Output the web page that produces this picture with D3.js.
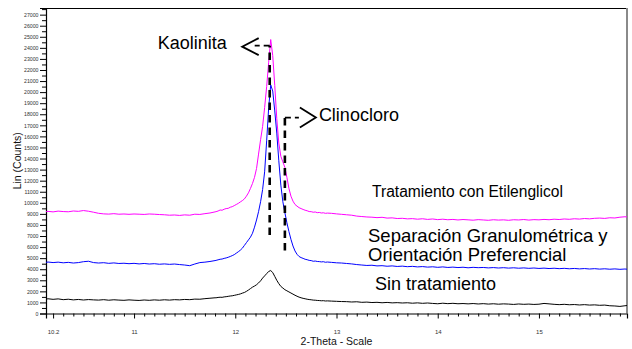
<!DOCTYPE html>
<html>
<head>
<meta charset="utf-8">
<script src="https://cdn.jsdelivr.net/npm/d3@7"></script>
<style>
  html, body { margin: 0; padding: 0; background: #fff; }
  svg { display: block; }
  text { font-family: "Liberation Sans", Arial, sans-serif; }
</style>
</head>
<body>
<svg id="chart" width="632" height="349"></svg>
<script>
// 2-Theta positions (degrees) shared by the three diffractograms
const twoTheta = [
  10.13, 10.15, 10.20, 10.25, 10.30, 10.35, 10.40, 10.45, 10.50, 10.55,
  10.60, 10.65, 10.70, 10.75, 10.80, 10.85, 10.90, 10.95, 11.00, 11.05,
  11.10, 11.15, 11.20, 11.25, 11.30, 11.35, 11.40, 11.45, 11.50, 11.55,
  11.60, 11.65, 11.70, 11.75, 11.80,
  11.81, 11.83, 11.85, 11.87, 11.89, 11.91, 11.93, 11.95, 11.97, 11.99,
  12.01, 12.03, 12.05, 12.07, 12.09, 12.11, 12.13, 12.15, 12.17, 12.19,
  12.21, 12.23, 12.25, 12.27, 12.29, 12.31, 12.33, 12.35, 12.37, 12.39,
  12.41, 12.43, 12.45, 12.47, 12.49, 12.51, 12.53, 12.55, 12.57, 12.59,
  12.61, 12.63, 12.65, 12.67, 12.69, 12.71, 12.73, 12.75, 12.77, 12.79,
  12.81, 12.83, 12.85, 12.87, 12.89, 12.91,
  12.95, 13.00, 13.05, 13.10, 13.15, 13.20, 13.25, 13.30, 13.35, 13.40,
  13.45, 13.50, 13.55, 13.60, 13.65, 13.70, 13.75, 13.80, 13.85, 13.90,
  13.95, 14.00, 14.05, 14.10, 14.15, 14.20, 14.25, 14.30, 14.35, 14.40,
  14.45, 14.50, 14.55, 14.60, 14.65, 14.70, 14.75, 14.80, 14.85, 14.90,
  14.95, 15.00, 15.05, 15.10, 15.15, 15.20, 15.25, 15.30, 15.35, 15.40,
  15.45, 15.50, 15.55, 15.60, 15.65, 15.70, 15.75, 15.80, 15.85, 15.87
];

// Tratamiento con Etilenglicol (counts)
const etilenglicol = [
  9200, 9230, 9180, 9250, 9210, 9190, 9260, 9230, 9300, 9240,
  9150, 9050, 9000, 8980, 9020, 8970, 8990, 8960, 8990, 8970,
  8950, 8990, 8970, 8940, 8920, 8880, 8900, 8860, 8910, 8880,
  8970, 8950, 9020, 9080, 9180,
  9200, 9260, 9350, 9330, 9420, 9480, 9500, 9600, 9650, 9750,
  9850, 9950, 10080, 10200, 10350, 10600, 10900, 11300, 11750, 12300,
  13100, 14400, 15700, 16900, 18600, 20500, 22700, 24750, 23300, 20600,
  17600, 15400, 14200, 13700, 13200, 12300, 11300, 10600, 10150, 9850,
  9700, 9560, 9480, 9400, 9330, 9280, 9210, 9200, 9150, 9170,
  9110, 9130, 9080, 9100, 9050, 9070,
  9050, 9000, 8960, 8920, 8880, 8800, 8760, 8720, 8700, 8660,
  8690, 8620, 8640, 8580, 8600, 8550, 8570, 8520, 8560, 8500,
  8540, 8480, 8520, 8470, 8500, 8450, 8490, 8460, 8430, 8480,
  8450, 8420, 8470, 8440, 8460, 8420, 8470, 8450, 8490, 8440,
  8480, 8460, 8500, 8470, 8520, 8490, 8540, 8510, 8560, 8530,
  8580, 8550, 8600, 8620, 8590, 8650, 8630, 8700, 8740, 8720
];

// Separación Granulométrica y Orientación Preferencial (counts)
const orientada = [
  4620, 4650, 4600, 4640, 4580, 4620, 4560, 4600, 4680, 4720,
  4600, 4560, 4590, 4530, 4570, 4520, 4540, 4500, 4530, 4480,
  4520, 4470, 4500, 4450, 4480, 4440, 4470, 4420, 4380, 4320,
  4470, 4600, 4640, 4700, 4780,
  4800, 4850, 4900, 4920, 4980, 5020, 5080, 5150, 5230, 5320,
  5450, 5580, 5720, 5900, 6150, 6400, 6650, 6900, 7250, 7800,
  8450, 9200, 10100, 11200, 12800, 15600, 18600, 20650, 20100, 18300,
  16300, 13800, 11600, 10100, 9100, 8200, 7400, 6700, 6100, 5650,
  5350, 5150, 5050, 4980, 4900, 4860, 4800, 4780, 4720, 4740,
  4700, 4690, 4660, 4680, 4630, 4650,
  4620, 4580, 4560, 4520, 4480, 4420, 4380, 4340, 4360, 4300,
  4320, 4270, 4300, 4250, 4280, 4230, 4260, 4210, 4240, 4190,
  4220, 4170, 4210, 4160, 4190, 4150, 4180, 4130, 4170, 4140,
  4160, 4120, 4150, 4110, 4140, 4100, 4130, 4090, 4120, 4080,
  4110, 4070, 4100, 4060, 4090, 4050, 4080, 4040, 4070, 4030,
  4060, 4020, 4050, 4010, 4040, 4000, 4030, 3990, 4020, 4000
];

// Sin tratamiento (counts)
const sinTratamiento = [
  1300, 1330, 1280, 1320, 1250, 1290, 1230, 1270, 1220, 1260,
  1230, 1210, 1250, 1200, 1240, 1210, 1190, 1230, 1200, 1180,
  1220, 1190, 1230, 1200, 1240, 1210, 1250, 1230, 1270, 1250,
  1300, 1290, 1340, 1380, 1420,
  1420, 1450, 1470, 1460, 1500, 1520, 1550, 1580, 1600, 1640,
  1680, 1720, 1770, 1840, 1900, 2000, 2120, 2250, 2380, 2480,
  2600, 2760, 2950, 3200, 3400, 3600, 3800, 3880, 3700, 3350,
  3000, 2700, 2450, 2300, 2150, 2050, 1950, 1850, 1750, 1650,
  1560, 1480, 1420, 1370, 1330, 1290, 1260, 1240, 1210, 1200,
  1180, 1170, 1150, 1160, 1130, 1140,
  1120, 1100, 1080, 1070, 1040, 1060, 1010, 1030, 990, 1010,
  970, 1000, 960, 980, 950, 970, 930, 960, 920, 950,
  910, 880, 930, 890, 920, 880, 900, 870, 900, 860,
  890, 850, 880, 840, 870, 850, 820, 860, 830, 850,
  820, 840, 910, 870, 830, 800, 830, 790, 810, 770,
  800, 760, 780, 740, 760, 700, 680, 640, 700, 720
];

// Axis ticks
const xTickLabels = [10.2, 11, 12, 13, 14, 15];
const yTickLabels = d3.range(0, 27001, 1000);

// Series styling and labels
const seriesNames = ["Tratamiento con Etilenglicol", "Separación Granulométrica y Orientación Preferencial", "Sin tratamiento"];
const seriesColors = ["#ff00ff", "#0000ff", "#000000"];
const seriesValues = [etilenglicol, orientada, sinTratamiento];

// Mineral peak markers: [name, 2-Theta, top counts, bottom counts]
const peakMarkers = [
  ["Kaolinita", 12.34, 24200, 7100],
  ["Clinocloro", 12.49, 17700, 5700]
];

const svg = d3.select("#chart");
const plot = { left: 46, right: 627, top: 8, bottom: 313.5 };

const x = d3.scaleLinear().domain([10.13, 15.87]).range([plot.left, plot.right]);
const y = d3.scaleLinear().domain([0, 27600]).range([plot.bottom, plot.top]);

// Frame: black top edge, grey right edge
svg.append("line")
  .attr("x1", plot.left).attr("x2", plot.right - 1)
  .attr("y1", plot.top + 0.5).attr("y2", plot.top + 0.5)
  .attr("stroke", "#000").attr("stroke-width", 1);
svg.append("line")
  .attr("x1", plot.right).attr("x2", plot.right)
  .attr("y1", plot.top).attr("y2", plot.bottom)
  .attr("stroke", "#8a8a8a").attr("stroke-width", 2);

// Y axis: labelled every 1000, minor ticks in between
const yAxis = d3.axisLeft(y)
  .tickValues(yTickLabels)
  .tickSize(6).tickPadding(1.5)
  .tickFormat(d3.format("d"));
const gy = svg.append("g").attr("transform", `translate(${plot.left},0)`).call(yAxis);
gy.select(".domain").attr("stroke", "#000").attr("stroke-width", 1.2);
gy.selectAll(".tick text").attr("font-size", 5.2).attr("fill", "#333").attr("font-family", '"Liberation Sans", Arial, sans-serif');
const yMinor = d3.axisLeft(y).tickValues(d3.range(500, 27600, 1000)).tickSize(4).tickFormat("");
const gyMinor = svg.append("g").attr("transform", `translate(${plot.left},0)`).call(yMinor);
gyMinor.select(".domain").remove();

// X axis
const xAxis = d3.axisBottom(x)
  .tickValues(xTickLabels)
  .tickSize(5).tickPadding(11)
  .tickFormat(d => d === 10.2 ? "10.2" : d3.format("d")(d));
const gx = svg.append("g").attr("transform", `translate(0,${plot.bottom})`).call(xAxis);
gx.select(".domain").attr("stroke", "#000").attr("stroke-width", 1.2);
gx.selectAll(".tick text").attr("font-size", 6).attr("fill", "#333").attr("font-family", '"Liberation Sans", Arial, sans-serif');
const xMinorValues = d3.range(10.2, 15.86, 0.1).filter(v => !xTickLabels.some(t => Math.abs(t - v) < 1e-6));
const xMinor = d3.axisBottom(x).tickValues(xMinorValues).tickSize(3).tickFormat("");
const gxMinor = svg.append("g").attr("transform", `translate(0,${plot.bottom})`).call(xMinor);
gxMinor.select(".domain").remove();

// Axis titles
svg.append("text")
  .attr("x", (plot.left + plot.right) / 2).attr("y", 345)
  .attr("text-anchor", "middle").attr("font-size", 10.5).attr("fill", "#111")
  .text("2-Theta - Scale");
svg.append("text")
  .attr("transform", `translate(20.5,${(plot.top + plot.bottom) / 2}) rotate(-90)`)
  .attr("text-anchor", "middle").attr("font-size", 10.5).attr("fill", "#111")
  .text("Lin (Counts)");

// Diffractograms
svg.append("clipPath").attr("id", "plotClip")
  .append("rect").attr("x", plot.left).attr("y", plot.top)
  .attr("width", plot.right - plot.left).attr("height", plot.bottom - plot.top);

const line = d3.line()
  .defined((d, i) => d != null && twoTheta[i] != null)
  .x((d, i) => x(twoTheta[i]))
  .y(d => y(d));

seriesValues.forEach((vals, k) => {
  svg.append("path")
    .datum(vals)
    .attr("clip-path", "url(#plotClip)")
    .attr("fill", "none")
    .attr("stroke", seriesColors[k])
    .attr("stroke-width", 1)
    .attr("stroke-linejoin", "round")
    .attr("d", line);
});

// Peak markers: dashed drop lines with open arrowheads
const [kao, cli] = peakMarkers;
const dash = { stroke: "#000", "stroke-width": 2.6, "stroke-dasharray": "7.5,5", fill: "none" };
function dashed(d) {
  const p = svg.append("path").attr("d", d);
  Object.entries(dash).forEach(([k, v]) => p.attr(k, v));
  return p;
}
function chevron(points) {
  svg.append("path")
    .attr("d", d3.line()(points))
    .attr("fill", "none").attr("stroke", "#000").attr("stroke-width", 1.8)
    .attr("stroke-linejoin", "miter");
}

// Kaolinita
const kx = x(kao[1]), kTop = y(kao[2]), kBot = y(kao[3]);
dashed(`M${kx},${kBot}V${kTop}`);
svg.append("path").attr("d", `M${kx},${kTop}H${kx - 15}`)
  .attr("stroke", "#000").attr("stroke-width", 1.8).attr("stroke-dasharray", "6,4").attr("fill", "none");
chevron([[kx - 11, kTop - 7.5], [kx - 27.5, kTop + 1], [kx - 11, kTop + 9.5]]);
svg.append("text")
  .attr("x", kx - 112).attr("y", kTop + 3)
  .attr("font-size", 18).attr("fill", "#000")
  .text(kao[0]);

// Clinocloro
const cx = x(cli[1]), cTop = y(cli[2]), cBot = y(cli[3]);
dashed(`M${cx},${cBot}V${cTop}`);
svg.append("path").attr("d", `M${cx},${cTop}H${cx + 14}`)
  .attr("stroke", "#000").attr("stroke-width", 1.8).attr("stroke-dasharray", "6,4").attr("fill", "none");
chevron([[cx + 15, cTop - 10], [cx + 31, cTop], [cx + 15, cTop + 10]]);
svg.append("text")
  .attr("x", cx + 34).attr("y", cTop + 3.5)
  .attr("font-size", 18).attr("fill", "#000")
  .text(cli[0]);

// Series labels
svg.append("text").attr("x", 372).attr("y", 197.3).attr("font-size", 15.6).attr("fill", "#000")
  .text(seriesNames[0]);
svg.append("text").attr("x", 368).attr("y", 241.7).attr("font-size", 18.5).attr("fill", "#000")
  .text("Separación Granulométrica y");
svg.append("text").attr("x", 368).attr("y", 261).attr("font-size", 18.5).attr("fill", "#000")
  .text("Orientación Preferencial");
svg.append("text").attr("x", 375).attr("y", 290).attr("font-size", 18).attr("fill", "#000")
  .text(seriesNames[2]);
</script>
</body>
</html>
